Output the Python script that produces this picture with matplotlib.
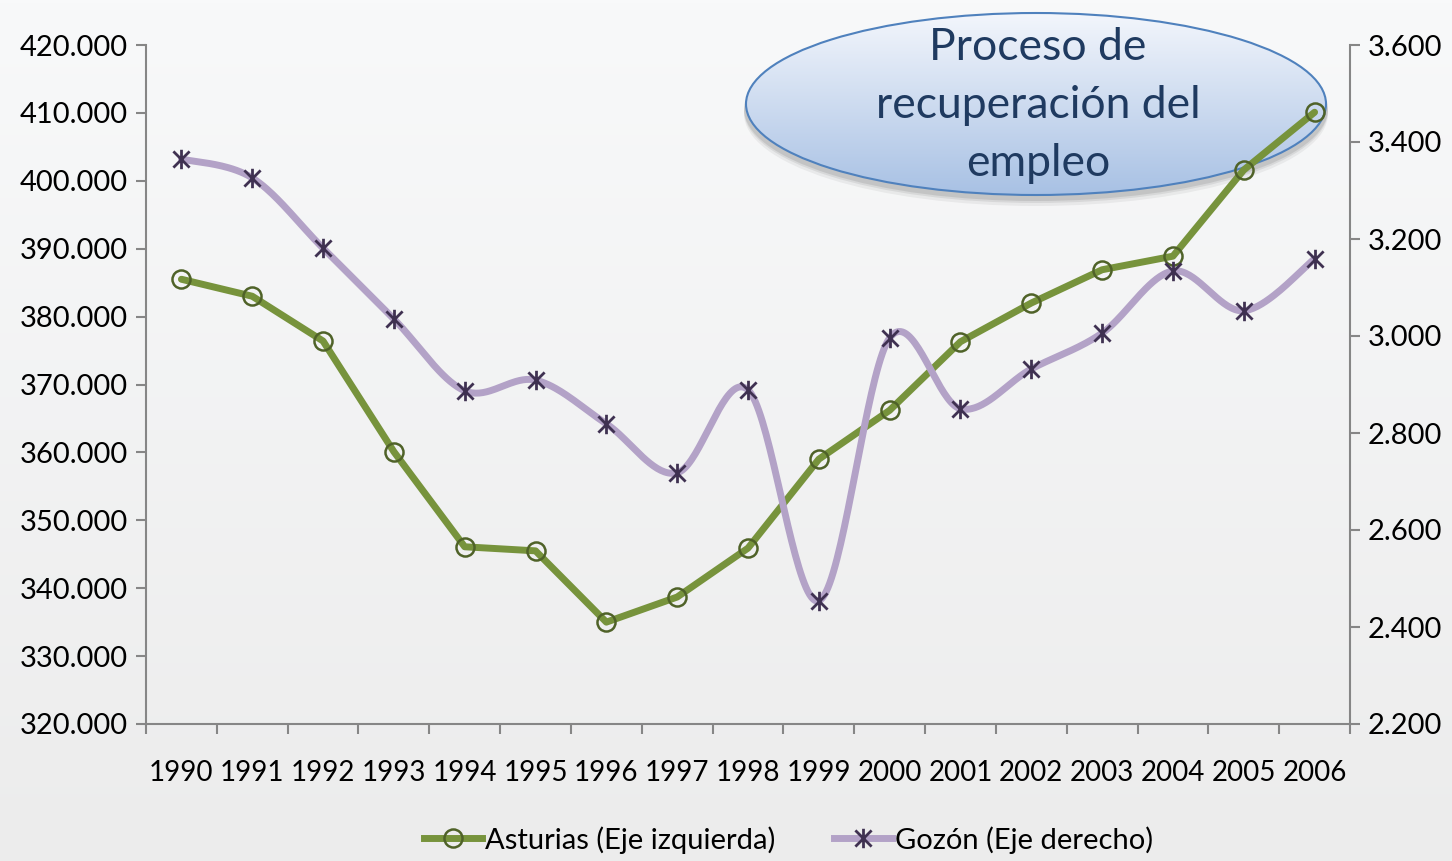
import numpy as np
import matplotlib.pyplot as plt
from matplotlib.patches import Ellipse
from matplotlib.path import Path
from matplotlib.lines import Line2D
from matplotlib.colors import LinearSegmentedColormap

plt.rcParams['font.family'] = ['Lato', 'DejaVu Sans']

years = [str(y) for y in range(1990, 2007)]
asturias = [385500, 383000, 376400, 360100, 346100, 345500, 335000, 338700,
            345900, 359000, 366200, 376300, 382000, 386900, 388900, 401600, 410100]
gozon = [3365, 3326, 3181, 3035, 2887, 2909, 2819, 2718,
         2889, 2454, 2996, 2850, 2932, 3006, 3134, 3052, 3159]

left_ticks = np.arange(320000, 420001, 10000)
right_ticks = np.arange(2200, 3601, 200)

GREEN = '#77933c'
GREEN_DARK = '#4f6228'
PURPLE = '#b3a2c7'
PURPLE_DARK = '#3f3151'
AXIS = '#868686'


def fmt(v):
    return f"{v:,.0f}".replace(',', '.')


def smooth(y, n=40):
    # Excel style smoothed line (Catmull-Rom as cubic Bezier)
    y = np.asarray(y, float)
    x = np.arange(len(y), dtype=float)
    pts = np.column_stack([x, y])
    ext = np.vstack([pts[0], pts, pts[-1]])
    out = []
    t = np.linspace(0, 1, n)[:, None]
    for i in range(len(pts) - 1):
        p0, p1, p2, p3 = ext[i], ext[i + 1], ext[i + 2], ext[i + 3]
        c1 = p1 + (p2 - p0) / 6
        c2 = p2 - (p3 - p1) / 6
        seg = ((1 - t) ** 3 * p1 + 3 * (1 - t) ** 2 * t * c1
               + 3 * (1 - t) * t ** 2 * c2 + t ** 3 * p2)
        out.append(seg if i == 0 else seg[1:])
    out = np.vstack(out)
    return out[:, 0], out[:, 1]


star = Path([(-1, -1), (1, 1), (-1, 1), (1, -1), (0, -1.2), (0, 1.2)],
            [Path.MOVETO, Path.LINETO, Path.MOVETO, Path.LINETO, Path.MOVETO, Path.LINETO])

W, H = 1452, 861
fig = plt.figure(figsize=(W / 100, H / 100), dpi=100)
fig.patch.set_facecolor('#efefef')

# background gradient and callout
bg = fig.add_axes([0, 0, 1, 1], zorder=-1)
grad = np.linspace(0, 1, 256)[:, None]
bg.imshow(grad, cmap=LinearSegmentedColormap.from_list('bg', ['#f8f9fa', '#ececec']),
          extent=[0, W, H, 0], aspect='auto')
for off, a in [(8, 0.05), (5, 0.07), (3, 0.09)]:
    bg.add_patch(Ellipse((1036, 106 + off), 584, 184, facecolor='#000000',
                         edgecolor='none', alpha=a))
ell = Ellipse((1036, 104), 580, 182, facecolor='none', edgecolor='#4f81bd', lw=1.5, zorder=3)
bg.add_patch(ell)
gimg = bg.imshow(grad, cmap=LinearSegmentedColormap.from_list('ell', ['#f3f6fc', '#a8c1e4']),
                 extent=[746, 1326, 195, 13], aspect='auto', zorder=2)
gimg.set_clip_path(ell)
for txt, yy in [('Proceso de', 48), ('recuperación del', 106), ('empleo', 163)]:
    bg.text(1038, yy, txt, ha='center', va='center', fontsize=32, color='#1f3a60', zorder=4)
bg.set_xlim(0, W)
bg.set_ylim(H, 0)
bg.axis('off')

ax = fig.add_axes([146 / W, 1 - 724 / H, (1350 - 146) / W, (724 - 45) / H])
ax.patch.set_alpha(0)
ax2 = ax.twinx()

x = np.arange(len(years))
ax.plot(x, asturias, color=GREEN, lw=5, marker='o', ms=13, mfc='none',
        mec=GREEN_DARK, mew=1.8, solid_capstyle='round', zorder=3)
sx, sy = smooth(gozon)
ax2.plot(sx, sy, color=PURPLE, lw=5, solid_capstyle='round')
ax2.plot(x, gozon, ls='none', marker=star, ms=14, mec=PURPLE_DARK, mew=2)

ax.set_xlim(-0.5, len(years) - 0.5)
ax.set_ylim(320000, 420000)
ax2.set_ylim(2200, 3600)
ax.set_yticks(left_ticks)
ax.set_yticklabels([fmt(v) for v in left_ticks])
ax2.set_yticks(right_ticks)
ax2.set_yticklabels([fmt(v) for v in right_ticks])

ax.set_xticks(np.arange(-0.5, len(years), 1))
ax.set_xticklabels([])
ax.set_xticks(x, minor=True)
ax.set_xticklabels(years, minor=True)
ax.tick_params(axis='x', which='minor', length=0, pad=26, labelsize=20)
ax.tick_params(axis='x', which='major', length=7, width=1.5, color=AXIS)
ax.tick_params(axis='y', length=7, width=1.5, color=AXIS, labelsize=21, pad=6)
ax2.tick_params(axis='y', length=7, width=1.5, color=AXIS, labelsize=21, pad=6)

for a in (ax, ax2):
    for s in a.spines.values():
        s.set_visible(False)
ax.spines['left'].set_visible(True)
ax.spines['bottom'].set_visible(True)
ax2.spines['right'].set_visible(True)
for s in (ax.spines['left'], ax.spines['bottom'], ax2.spines['right']):
    s.set_color(AXIS)
    s.set_linewidth(1.5)

handles = [
    Line2D([], [], color=GREEN, lw=5, marker='o', ms=13, mfc='none', mec=GREEN_DARK, mew=1.8),
    Line2D([], [], color=PURPLE, lw=5, marker=star, ms=14, mec=PURPLE_DARK, mew=2),
]
fig.legend(handles, ['Asturias (Eje izquierda)', 'Gozón (Eje derecho)'],
           loc='lower center', bbox_to_anchor=(0.543, -0.022), ncol=2, frameon=False,
           fontsize=21, handlelength=2.0, handletextpad=0.1, columnspacing=2.0)

fig.savefig('out.png', dpi=100, facecolor=fig.get_facecolor())
